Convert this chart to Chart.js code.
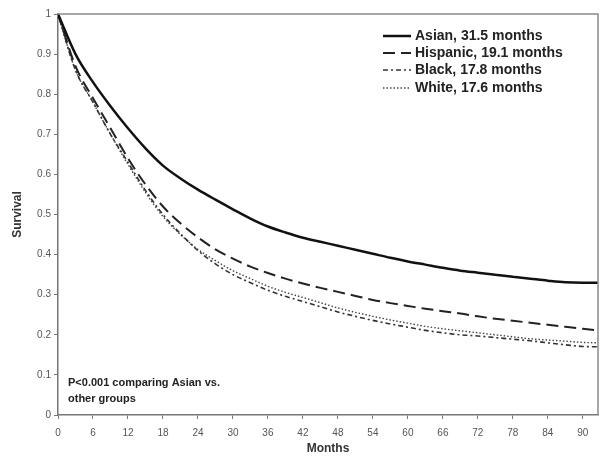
<!DOCTYPE html>
<html>
<head>
<meta charset="utf-8">
<script src="https://cdn.jsdelivr.net/npm/chart.js@4/dist/chart.umd.min.js"></script>
<style>
  html, body { margin: 0; padding: 0; background: #fff; }
  #wrap { width: 600px; height: 457px; }
</style>
</head>
<body>
<div id="wrap"><canvas id="km_chart"></canvas></div>
<script>
// Survival curves by race (Kaplan-Meier)

const months = [0, 3, 6, 9, 12, 15, 18, 21, 24, 27, 30, 33, 36, 39, 42, 45, 48, 51, 54, 57, 60, 63, 66, 69, 72, 75, 78, 81, 84, 87, 90, 93];

const asian    = [1.0, 0.90, 0.83, 0.77, 0.715, 0.665, 0.622, 0.59, 0.562, 0.537, 0.513, 0.49, 0.47, 0.455, 0.442, 0.432, 0.422, 0.412, 0.402, 0.392, 0.383, 0.375, 0.367, 0.36, 0.355, 0.35, 0.345, 0.34, 0.335, 0.331, 0.33, 0.33];
const hispanic = [1.0, 0.87, 0.79, 0.715, 0.64, 0.575, 0.52, 0.478, 0.443, 0.413, 0.39, 0.37, 0.354, 0.34, 0.328, 0.317, 0.307, 0.297, 0.287, 0.279, 0.272, 0.265, 0.259, 0.253, 0.246, 0.24, 0.235, 0.23, 0.225, 0.22, 0.215, 0.21];
const black    = [1.0, 0.86, 0.78, 0.70, 0.63, 0.56, 0.50, 0.452, 0.41, 0.377, 0.35, 0.33, 0.311, 0.296, 0.283, 0.27, 0.257, 0.246, 0.236, 0.227, 0.219, 0.211, 0.205, 0.20, 0.197, 0.193, 0.189, 0.185, 0.18, 0.175, 0.171, 0.17];
const white    = [1.0, 0.86, 0.78, 0.70, 0.625, 0.555, 0.495, 0.45, 0.413, 0.385, 0.36, 0.34, 0.321, 0.306, 0.293, 0.28, 0.267, 0.256, 0.246, 0.237, 0.229, 0.221, 0.215, 0.21, 0.205, 0.20, 0.195, 0.19, 0.187, 0.184, 0.181, 0.18];

const legendTexts = ['Asian, 31.5 months', 'Hispanic, 19.1 months', 'Black, 17.8 months', 'White, 17.6 months'];
const noteLines = ['P<0.001 comparing Asian vs.', 'other groups'];

const FONT = 'Arial, "Liberation Sans", sans-serif';

function pts(vals) {
    return vals.map((v, i) => ({ x: months[i], y: v }));
}

// legenda e caixa dentro da area do grafico
const extras = {
    id: 'extras',
    afterDraw(chart) {
        const ctx = chart.ctx;
        const a = chart.chartArea;
        ctx.save();
        // borda de cima e da direita
        ctx.strokeStyle = '#8a8a8a';
        ctx.lineWidth = 1.5;
        ctx.beginPath();
        ctx.moveTo(a.left, a.top);
        ctx.lineTo(a.right, a.top);
        ctx.lineTo(a.right, a.bottom);
        ctx.stroke();

        // legenda
        const rowsY = [36, 53, 70, 88];
        ctx.font = 'bold 14px ' + FONT;
        ctx.textBaseline = 'middle';
        chart.data.datasets.forEach((ds, i) => {
            const y = rowsY[i];
            ctx.strokeStyle = ds.borderColor;
            ctx.lineWidth = ds.borderWidth;
            ctx.setLineDash(ds.borderDash || []);
            ctx.beginPath();
            ctx.moveTo(383, y);
            ctx.lineTo(411, y);
            ctx.stroke();
            ctx.setLineDash([]);
            ctx.fillStyle = '#222';
            ctx.fillText(legendTexts[i], 415, y);
        });

        // nota do p-valor
        ctx.font = 'bold 11px ' + FONT;
        ctx.fillStyle = '#222';
        ctx.fillText(noteLines[0], 68, 383);
        ctx.fillText(noteLines[1], 68, 399);
        ctx.restore();
    }
};

const ctx1 = document.getElementById('km_chart');
const chartKM = new Chart(ctx1, {
    type: 'line',
    data: {
        datasets: [
            { label: 'Asian', data: pts(asian), borderColor: '#111', borderWidth: 2.5, borderDash: [] },
            { label: 'Hispanic', data: pts(hispanic), borderColor: '#222', borderWidth: 2, borderDash: [12, 6] },
            { label: 'Black', data: pts(black), borderColor: '#333', borderWidth: 1.6, borderDash: [5, 3, 2, 3] },
            { label: 'White', data: pts(white), borderColor: '#444', borderWidth: 1.4, borderDash: [1.5, 2] }
        ]
    },
    options: {
        responsive: true,
        maintainAspectRatio: false,
        animation: false,
        layout: { padding: { top: 14, right: 2, left: 0, bottom: 0 } },
        elements: {
            point: { radius: 0 },
            line: { cubicInterpolationMode: 'monotone', fill: false }
        },
        plugins: {
            legend: { display: false },
            tooltip: { enabled: false }
        },
        scales: {
            x: {
                type: 'linear',
                min: 0,
                max: 92.6,
                afterFit: (s) => { s.height = 42; },
                ticks: {
                    stepSize: 6,
                    includeBounds: false,
                    autoSkip: false,
                    maxRotation: 0,
                    padding: 8,
                    color: '#555',
                    font: { size: 10, family: FONT }
                },
                grid: { drawOnChartArea: false, tickLength: 4, color: '#777' },
                border: { color: '#777', width: 1.5 },
                title: {
                    display: true,
                    text: 'Months',
                    color: '#333',
                    font: { size: 12, weight: 'bold', family: FONT },
                    padding: { top: 0, bottom: 1 }
                }
            },
            y: {
                min: 0,
                max: 1,
                afterFit: (s) => { s.width = 58; },
                ticks: {
                    stepSize: 0.1,
                    padding: 3,
                    color: '#555',
                    font: { size: 10, family: FONT },
                    callback: (v) => String(Number(v.toFixed(1)))
                },
                grid: { drawOnChartArea: false, tickLength: 4, color: '#777' },
                border: { color: '#777', width: 1.5 },
                title: {
                    display: true,
                    text: 'Survival',
                    color: '#333',
                    font: { size: 12, weight: 'bold', family: FONT },
                    padding: { top: 10, bottom: 0 }
                }
            }
        }
    },
    plugins: [extras]
});
</script>
</body>
</html>
